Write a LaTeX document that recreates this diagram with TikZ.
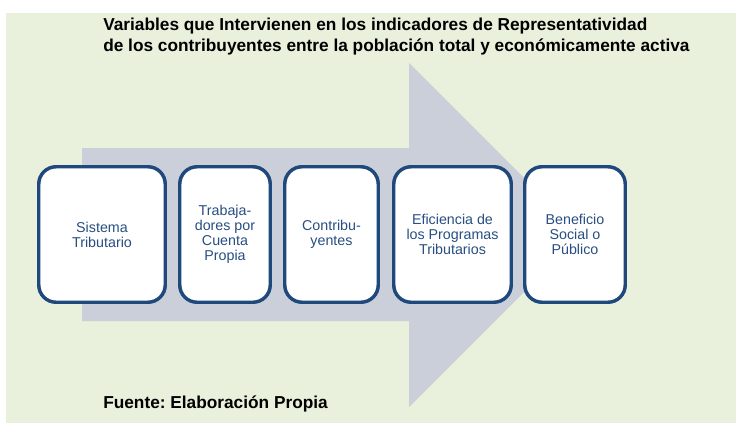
\documentclass[tikz,border=0pt]{standalone}
\usepackage{fontspec}
\setmainfont{Liberation Sans}
\frenchspacing
\definecolor{bggreen}{RGB}{233,240,220}
\definecolor{arrowgrey}{RGB}{203,207,217}
\definecolor{boxblue}{RGB}{31,73,125}
\definecolor{txtblue}{RGB}{40,78,130}
\begin{document}
\begin{tikzpicture}[x=0.75pt,y=-0.75pt,
  stepbox/.style={draw=boxblue, line width=2.6pt, fill=white, rounded corners=13pt,
    inner sep=0pt, align=center, text=txtblue,
    font=\fontsize{10.7}{11.1}\selectfont},
  titletext/.style={anchor=base west, inner sep=0pt, font=\fontsize{12.95}{15}\selectfont\bfseries}]
\useasboundingbox (0,0) rectangle (736,425);
\fill[bggreen] (6,13) rectangle (736,423);
% big arrow
\fill[arrowgrey] (82,148) -- (409,148) -- (409,63) -- (581,235) -- (409,407) -- (409,321) -- (82,321) -- cycle;
% title
\node[titletext] (t1) at (103,30.5) {Variables que Intervienen en los indicadores de Representatividad};
\node[titletext] (t2) at (103,51.7) {de los contribuyentes entre la población total y económicamente activa};
% boxes
\node[stepbox, minimum width=126.5*0.75pt, minimum height=135.5*0.75pt] (b1) at (102,234.5) {Sistema\\Tributario};
\node[stepbox, minimum width=90.5*0.75pt, minimum height=135.5*0.75pt] (b2) at (225,234.5) {Trabaja-\\dores por\\Cuenta\\Propia};
\node[stepbox, minimum width=93.5*0.75pt, minimum height=135.5*0.75pt] (b3) at (331.5,234.5) {Contribu-\\yentes};
\node[stepbox, minimum width=117.5*0.75pt, minimum height=135.5*0.75pt] (b4) at (452.5,234.5) {Eficiencia de\\los Programas\\Tributarios};
\node[stepbox, minimum width=100.5*0.75pt, minimum height=135.5*0.75pt] (b5) at (575,234.5) {Beneficio\\Social o\\Público};
% source
\node[titletext] (src) at (103,408) {Fuente: Elaboración Propia};
\end{tikzpicture}
\end{document}
